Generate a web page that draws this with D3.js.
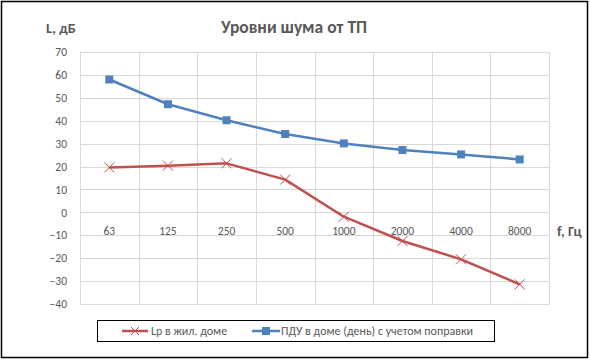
<!DOCTYPE html>
<html><head><meta charset="utf-8">
<script src="https://cdn.jsdelivr.net/npm/d3@7/dist/d3.min.js"></script>
<style>body{margin:0;background:#fff}svg{display:block}text{font-family:Calibri,Carlito,"Liberation Sans","DejaVu Sans",sans-serif}</style>
</head><body><svg id="c" width="590" height="360"></svg>
<script>
const categories = ["63","125","250","500","1000","2000","4000","8000"];
const lpValues = [19.6, 20.4, 21.4, 14.3, -1.9, -12.5, -20.5, -31.4];
const pduValues = [58, 47.2, 40.2, 34.2, 30.1, 27.2, 25.3, 23.1];
const yTicks = [70,60,50,40,30,20,10,0,-10,-20,-30,-40];
const seriesNames = ["Lp в жил. доме", "ПДУ в доме (день) с учетом поправки"];
const title = "Уровни шума от ТП";
const yTitle = "L, дБ";
const xTitle = "f, Гц";

const svg = d3.select("#c");
const W=590,H=360;
svg.append("rect").attr("x",1.5).attr("y",1.5).attr("width",W-4).attr("height",H-4).attr("fill","#fff").attr("stroke","#000").attr("stroke-width",1.5);

const L=80,R=549,T=52,B=304;
const x = d3.scaleBand().domain(categories).range([L,R]);
const y = d3.scaleLinear().domain([-40,70]).range([B,T]);

const g = svg.append("g");
g.selectAll(".hg").data(yTicks).join("line")
 .attr("x1",L).attr("x2",R).attr("y1",d=>Math.round(y(d))+0.5).attr("y2",d=>Math.round(y(d))+0.5)
 .attr("stroke","#d9d9d9").attr("stroke-width",1);
const vx = categories.map(c=>x(c)).concat([R]);
g.selectAll(".vg").data(vx).join("line")
 .attr("x1",d=>Math.round(d)+0.5).attr("x2",d=>Math.round(d)+0.5).attr("y1",T).attr("y2",B)
 .attr("stroke","#d9d9d9").attr("stroke-width",1);

const yAxis = d3.axisLeft(y).tickValues(yTicks).tickSize(0).tickPadding(13);
const ya = svg.append("g").attr("transform",`translate(${L},0)`).call(yAxis);
ya.select(".domain").remove();
ya.selectAll("text").attr("font-size",11.5).attr("fill","#595959").style("font-family","Calibri,Carlito,'Liberation Sans',sans-serif");

const xAxis = d3.axisBottom(x).tickSize(0).tickPadding(14);
const xa = svg.append("g").attr("transform",`translate(0,${y(0)})`).call(xAxis);
xa.select(".domain").remove();
xa.selectAll("text").attr("font-size",11.5).attr("fill","#595959").style("font-family","Calibri,Carlito,'Liberation Sans',sans-serif");

const cx = c=>x(c)+x.bandwidth()/2;
const line = d3.line().x((d,i)=>cx(categories[i])).y(d=>y(d)).curve(d3.curveLinear);

svg.append("path").datum(pduValues).attr("d",line).attr("fill","none").attr("stroke","#4F81BD").attr("stroke-width",2.5).attr("stroke-linejoin","round");
svg.append("path").datum(lpValues).attr("d",line).attr("fill","none").attr("stroke","#C0504D").attr("stroke-width",2.5).attr("stroke-linejoin","round");

svg.selectAll(".sq").data(pduValues).join("rect")
 .attr("x",(d,i)=>cx(categories[i])-4).attr("y",d=>y(d)-4).attr("width",8).attr("height",8).attr("fill","#4F81BD");
const xm = svg.append("g");
lpValues.forEach((d,i)=>{
  const px=cx(categories[i]), py=y(d), s=5;
  xm.append("path").attr("d",`M${px-s},${py-s}L${px+s},${py+s}M${px-s},${py+s}L${px+s},${py-s}`).attr("stroke","#C0504D").attr("stroke-width",1);
});

svg.append("text").attr("x",294).attr("y",33).attr("text-anchor","middle").attr("font-size",17.5).attr("font-weight","bold").attr("fill","#595959").text(title);
svg.append("text").attr("x",46).attr("y",33).attr("font-size",14.5).attr("font-weight","bold").attr("fill","#595959").text(yTitle);
svg.append("text").attr("x",557).attr("y",236).attr("font-size",14.5).attr("font-weight","bold").attr("fill","#595959").text(xTitle);

svg.append("rect").attr("x",97.5).attr("y",320.5).attr("width",397).attr("height",21).attr("fill","#fff").attr("stroke","#000").attr("stroke-width",1);
const ly=331;
svg.append("line").attr("x1",122).attr("x2",148).attr("y1",ly).attr("y2",ly).attr("stroke","#C0504D").attr("stroke-width",2.5);
svg.append("path").attr("d",`M${135-4},${ly-4}L${135+4},${ly+4}M${135-4},${ly+4}L${135+4},${ly-4}`).attr("stroke","#C0504D").attr("stroke-width",1);
svg.append("text").attr("x",151).attr("y",ly+4).attr("font-size",12).attr("fill","#595959").text(seriesNames[0]);
svg.append("line").attr("x1",252).attr("x2",280).attr("y1",ly).attr("y2",ly).attr("stroke","#4F81BD").attr("stroke-width",2.5);
svg.append("rect").attr("x",262).attr("y",ly-4).attr("width",8).attr("height",8).attr("fill","#4F81BD");
svg.append("text").attr("x",281).attr("y",ly+4).attr("font-size",12).attr("fill","#595959").text(seriesNames[1]);
</script></body></html>
